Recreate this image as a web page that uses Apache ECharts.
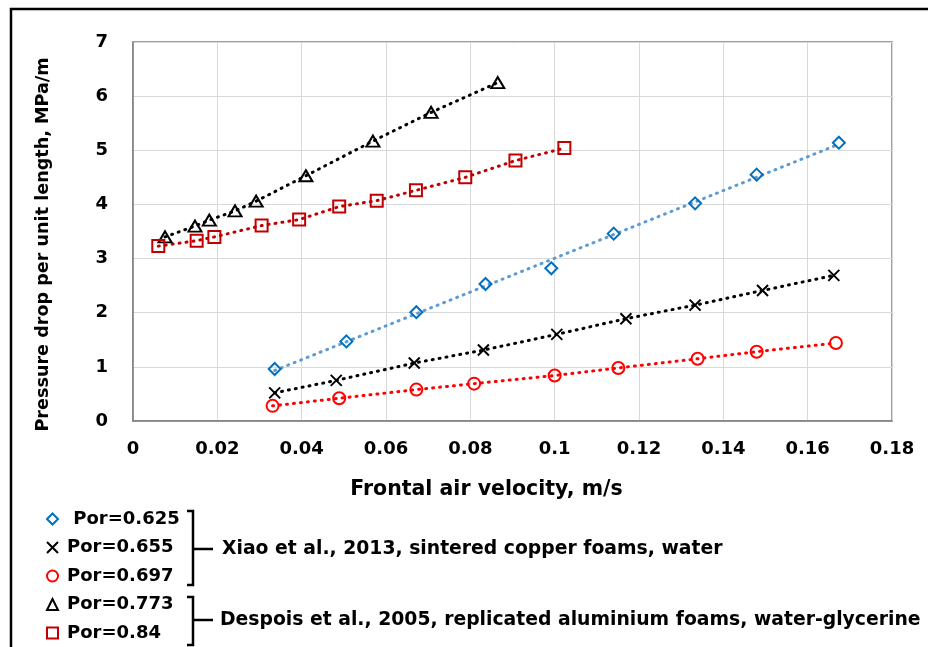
<!DOCTYPE html>
<html><head><meta charset="utf-8">
<script src="https://cdn.jsdelivr.net/npm/echarts@6/dist/echarts.min.js"></script>
<style>html,body{margin:0;padding:0;background:#fff}#c{width:928px;height:647px}</style>
</head><body><div id="c"></div>
<script>
// ---- data ----
const xTickLabels = ['0','0.02','0.04','0.06','0.08','0.1','0.12','0.14','0.16','0.18'];
const yTickLabels = ['0','1','2','3','4','5','6','7'];
const seriesNames = ['Por=0.625','Por=0.655','Por=0.697','Por=0.773','Por=0.84'];

const por625X = [0.0336,0.0506,0.0672,0.0836,0.0992,0.1140,0.1333,0.1479,0.1674];
const por625Y = [0.96,1.47,2.01,2.53,2.82,3.46,4.02,4.55,5.14];
const por655X = [0.0336,0.0482,0.0667,0.0831,0.1005,0.1169,0.1333,0.1493,0.1662];
const por655Y = [0.52,0.75,1.07,1.31,1.60,1.89,2.14,2.41,2.69];
const por697X = [0.0331,0.0489,0.0672,0.0809,0.1000,0.1151,0.1339,0.1479,0.1667];
const por697Y = [0.28,0.42,0.58,0.69,0.84,0.98,1.15,1.28,1.44];
const por773X = [0.0076,0.0147,0.0181,0.0242,0.0292,0.0410,0.0569,0.0707,0.0865];
const por773Y = [3.40,3.60,3.71,3.88,4.06,4.53,5.17,5.70,6.25];
const por84X  = [0.0060,0.0151,0.0193,0.0305,0.0394,0.0489,0.0578,0.0671,0.0788,0.0907,0.1023];
const por84Y  = [3.23,3.33,3.40,3.61,3.72,3.96,4.07,4.26,4.50,4.81,5.04];

const groupLabels = ['Xiao et al., 2013, sintered copper foams, water',
                     'Despois et al., 2005, replicated aluminium foams, water-glycerine'];

// ---- helpers ----
const pairs = (xs, ys) => xs.map((x, i) => [x, ys[i]]);
function linearFit(xs, ys) {
  const n = xs.length;
  const mx = xs.reduce((a, b) => a + b, 0) / n;
  const my = ys.reduce((a, b) => a + b, 0) / n;
  let sxy = 0, sxx = 0;
  for (let i = 0; i < n; i++) { sxy += (xs[i]-mx)*(ys[i]-my); sxx += (xs[i]-mx)*(xs[i]-mx); }
  const b = sxy / sxx, a = my - b * mx;
  const x0 = Math.min(...xs), x1 = Math.max(...xs);
  return [[x0, a + b*x0], [x1, a + b*x1]];
}

const FONT = 'DejaVu Sans';
const XPATH = 'path://M0,0L10,10M10,0L0,10';
const dotted = (color) => ({ color: color, width: 3, type: [1, 6], cap: 'round' });

const chart = echarts.init(document.getElementById('c'), null, { renderer: 'canvas' });

const pointSeries = (name, xs, ys, symbol, size, color, lineColor, showLine) => ({
  name: name, type: 'line', data: pairs(xs, ys),
  symbol: symbol, symbolSize: size, showAllSymbol: true,
  itemStyle: { color: 'rgba(0,0,0,0)', borderColor: color, borderWidth: 2 },
  lineStyle: showLine ? dotted(lineColor) : { width: 0, opacity: 0 },
  z: 3
});

const option = {
  animation: false,
  backgroundColor: '#fff',
  grid: { left: 133, right: 36, top: 42, bottom: 226, show: true, borderColor: '#7F7F7F', borderWidth: 1.5, containLabel: false },
  xAxis: {
    type: 'value', min: 0, max: 0.18, interval: 0.02,
    name: 'Frontal air velocity, m/s', nameLocation: 'middle', nameGap: 58,
    nameTextStyle: { fontFamily: FONT, fontWeight: 'bold', fontSize: 20.5, color: '#000', padding: [0, 52, 0, 0] },
    axisLine: { show: true, lineStyle: { color: '#7F7F7F', width: 1.5 } },
    axisTick: { show: false },
    splitLine: { show: true, lineStyle: { color: '#D9D9D9', width: 1 } },
    axisLabel: { margin: 19, fontFamily: FONT, fontWeight: 'bold', fontSize: 18, color: '#000',
      formatter: (v) => xTickLabels[Math.round(v / 0.02)] }
  },
  yAxis: {
    type: 'value', min: 0, max: 7, interval: 1,
    name: 'Pressure drop per unit length, MPa/m', nameLocation: 'middle', nameGap: 81,
    nameTextStyle: { fontFamily: FONT, fontWeight: 'bold', fontSize: 17.6, color: '#000', padding: [0, 26, 0, 0] },
    axisLine: { show: true, lineStyle: { color: '#7F7F7F', width: 1.5 } },
    axisTick: { show: false },
    splitLine: { show: true, lineStyle: { color: '#D9D9D9', width: 1 } },
    axisLabel: { margin: 25, fontFamily: FONT, fontWeight: 'bold', fontSize: 18, color: '#000',
      formatter: (v) => yTickLabels[Math.round(v)] }
  },
  legend: {
    orient: 'vertical', left: 46, top: 510, padding: 0,
    itemWidth: 11, itemHeight: 11, itemGap: 10.5, selectedMode: false,
    textStyle: { fontFamily: FONT, fontWeight: 'bold', fontSize: 18, lineHeight: 18, color: '#000', padding: [0, 0, 0, 4] },
    formatter: (name) => name === seriesNames[0] ? ' ' + name : name,
    data: [
      { name: seriesNames[0], icon: 'diamond', itemStyle: { color: 'rgba(0,0,0,0)', borderColor: '#0070C0', borderWidth: 2 } },
      { name: seriesNames[1], icon: XPATH, itemStyle: { color: 'rgba(0,0,0,0)', borderColor: '#000', borderWidth: 2 } },
      { name: seriesNames[2], icon: 'circle', itemStyle: { color: 'rgba(0,0,0,0)', borderColor: '#FF0000', borderWidth: 2 } },
      { name: seriesNames[3], icon: 'triangle', itemStyle: { color: 'rgba(0,0,0,0)', borderColor: '#000', borderWidth: 2 } },
      { name: seriesNames[4], icon: 'rect', itemStyle: { color: 'rgba(0,0,0,0)', borderColor: '#C00000', borderWidth: 2 } }
    ]
  },
  series: [
    { name: 'trend ' + seriesNames[0], type: 'line', data: linearFit(por625X, por625Y), symbol: 'none',
      lineStyle: dotted('#5B9BD5'), z: 2, silent: true },
    pointSeries(seriesNames[0], por625X, por625Y, 'diamond', 12, '#0070C0', '#5B9BD5', false),
    pointSeries(seriesNames[1], por655X, por655Y, XPATH, 11, '#000', '#000', true),
    pointSeries(seriesNames[2], por697X, por697Y, 'circle', 12, '#FF0000', '#FF0000', true),
    pointSeries(seriesNames[3], por773X, por773Y, 'triangle', [13, 11], '#000', '#000', true),
    pointSeries(seriesNames[4], por84X, por84Y, 'rect', 12, '#C00000', '#C00000', true)
  ],
  graphic: [
    { type: 'polyline', shape: { points: [[11, 660], [11, 9], [940, 9]] }, style: { fill: 'none', stroke: '#000', lineWidth: 2.5 }, silent: true },
    { type: 'polyline', shape: { points: [[187, 511], [193, 511], [193, 585], [187, 585]] }, style: { fill: 'none', stroke: '#000', lineWidth: 2.5 } },
    { type: 'line', shape: { x1: 193, y1: 549, x2: 213, y2: 549 }, style: { stroke: '#000', lineWidth: 2.5 } },
    { type: 'polyline', shape: { points: [[187, 597], [193, 597], [193, 645], [187, 645]] }, style: { fill: 'none', stroke: '#000', lineWidth: 2.5 } },
    { type: 'line', shape: { x1: 193, y1: 620, x2: 213, y2: 620 }, style: { stroke: '#000', lineWidth: 2.5 } },
    { type: 'text', x: 222, y: 549, style: { text: groupLabels[0], fontFamily: FONT, fontWeight: 'bold', fontSize: 18.8, fill: '#000', verticalAlign: 'middle' } },
    { type: 'text', x: 220, y: 620, style: { text: groupLabels[1], fontFamily: FONT, fontWeight: 'bold', fontSize: 18.8, fill: '#000', verticalAlign: 'middle' } }
  ]
};
chart.setOption(option);
</script></body></html>
